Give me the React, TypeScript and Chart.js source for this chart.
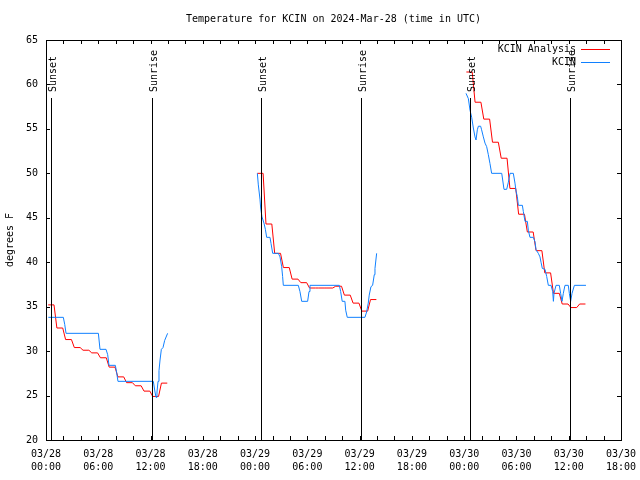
import React, { useEffect, useRef } from 'react';
import { Chart, registerables } from 'chart.js';

Chart.register(...registerables);

const FONT = '"DejaVu Sans Mono", "Liberation Mono", monospace';

const titleText = 'Temperature for KCIN on 2024-Mar-28 (time in UTC)';
const dayLabels = ['03/28', '03/29', '03/30', '03/31'];

// Sunrise / sunset (hours since 03/28 00:00 UTC)
const sunHours = [0.6, 12.2, 24.65, 36.2, 48.7, 60.15];
const sunLabels = ['Sunset', 'Sunrise', 'Sunset', 'Sunrise', 'Sunset', 'Sunrise'];

// KCIN Analysis (hourly values), three evening/night runs
const redStarts = [0, 24, 48];
const redRun1 = [35.2, 32.6, 31.3, 30.4, 30.1, 29.8, 29.25, 28.2, 27.1, 26.45, 26.1, 25.5, 24.9, 26.4];
const redRun2 = [50.0, 44.3, 41.0, 39.4, 38.1, 37.7, 37.1, 37.1, 37.1, 37.3, 36.3, 35.4, 34.5, 35.8];
const redRun3 = [61.4, 58.0, 56.1, 53.5, 51.7, 48.3, 45.4, 43.4, 41.3, 38.8, 36.5, 35.3, 34.9, 35.3];

// KCIN observations
const blueHours1 = [0.27, 1.99, 2.15, 2.3, 6.01, 6.2, 6.89, 7.08, 7.23, 7.96, 8.11, 8.26, 12.32, 12.51, 12.63, 12.74, 12.86, 12.97, 13.09, 13.24, 13.43, 13.62, 13.96];
const blueTemps1 = [33.8, 33.8, 33.0, 32.0, 32.0, 30.2, 30.2, 29.6, 28.4, 28.4, 27.6, 26.6, 26.6, 25.4, 24.8, 25.4, 26.6, 27.8, 29.0, 30.2, 30.4, 31.2, 32.0];
const blueHours2 = [24.26, 24.37, 24.56, 24.64, 24.79, 25.02, 25.18, 25.33, 25.71, 25.83, 26.02, 26.67, 26.86, 27.05, 27.16, 27.24, 28.96, 29.15, 29.35, 30.03, 30.19, 30.3, 33.67, 33.82, 34.0, 34.31, 34.4, 34.58, 36.61, 36.8, 36.99, 37.1, 37.3, 37.49, 37.68, 37.76, 37.95];
const blueTemps2 = [50.0, 48.7, 47.1, 46.1, 45.1, 44.4, 43.7, 42.8, 42.8, 42.1, 41.0, 41.0, 40.6, 39.5, 38.4, 37.4, 37.4, 36.7, 35.6, 35.6, 36.7, 37.4, 37.4, 36.7, 35.6, 35.6, 34.6, 33.8, 33.8, 34.4, 35.4, 36.3, 37.25, 37.4, 38.6, 39.3, 41.0];
const blueHours3 = [48.21, 48.48, 48.67, 48.86, 49.05, 49.24, 49.36, 49.51, 49.63, 49.89, 50.0, 50.2, 50.39, 50.58, 50.77, 50.96, 51.15, 52.31, 52.42, 52.57, 52.88, 53.07, 53.26, 53.64, 53.83, 53.95, 54.1, 54.22, 54.68, 54.79, 54.98, 55.25, 55.36, 55.55, 55.94, 56.13, 56.25, 56.51, 56.7, 56.82, 56.97, 57.28, 57.47, 57.66, 57.97, 58.16, 58.24, 58.31, 58.54, 58.92, 59.07, 59.23, 59.38, 59.57, 59.95, 60.07, 60.22, 60.38, 60.65, 61.98];
const blueTemps3 = [59.0, 58.4, 57.1, 56.3, 55.1, 54.1, 53.75, 54.9, 55.3, 55.3, 54.9, 54.1, 53.4, 53.0, 52.1, 51.1, 50.0, 50.0, 49.25, 48.2, 48.2, 49.0, 50.0, 50.0, 48.9, 48.0, 47.4, 46.4, 46.4, 45.7, 44.6, 44.6, 43.6, 42.8, 42.8, 42.3, 41.4, 41.0, 40.6, 40.0, 39.3, 39.2, 38.4, 37.4, 37.4, 36.7, 35.6, 36.5, 37.4, 37.4, 36.5, 35.6, 36.5, 37.4, 37.4, 36.5, 35.6, 36.5, 37.4, 37.4];

const seriesNames = ['KCIN Analysis', 'KCIN'];
const seriesColors = ['#ff0000', '#1080ff'];

function buildRed() {
  const runs = [redRun1, redRun2, redRun3];
  const pts: any[] = [];
  runs.forEach((vals, k) => {
    const s = redStarts[k];
    if (k > 0) pts.push({ x: s - 1, y: null });
    vals.forEach((v, i) => {
      pts.push({ x: s + i + 0.25, y: v });
      pts.push({ x: s + i + 0.92, y: v });
    });
  });
  return pts;
}

function buildBlue() {
  const hs = [blueHours1, blueHours2, blueHours3];
  const ts = [blueTemps1, blueTemps2, blueTemps3];
  const pts: any[] = [];
  hs.forEach((h, k) => {
    if (k > 0) pts.push({ x: h[0] - 1, y: null });
    h.forEach((x, i) => pts.push({ x, y: ts[k][i] }));
  });
  return pts;
}

const decorPlugin = {
  id: 'decor',
  afterDatasetsDraw(chart: any) {
    const { ctx, chartArea: a, scales } = chart;
    const x = scales.x;
    const y = scales.y;
    ctx.save();
    ctx.strokeStyle = '#000';
    ctx.fillStyle = '#000';
    ctx.lineWidth = 1;
    // sunrise/sunset markers
    sunHours.forEach((h, i) => {
      const px = Math.round(x.getPixelForValue(h)) + 0.5;
      ctx.beginPath();
      ctx.moveTo(px, a.top + 58);
      ctx.lineTo(px, a.bottom);
      ctx.stroke();
      ctx.save();
      ctx.translate(px + 1.5, a.top + 52);
      ctx.rotate(-Math.PI / 2);
      ctx.font = `10px ${FONT}`;
      ctx.textAlign = 'left';
      ctx.textBaseline = 'middle';
      ctx.fillText(sunLabels[i], 0, 0);
      ctx.restore();
    });
    // frame
    ctx.strokeRect(a.left + 0.5, a.top + 0.5, a.right - a.left, a.bottom - a.top);
    // inward ticks
    const tl = 4;
    for (let h = 0; h <= 66; h += 2) {
      const px = Math.round(x.getPixelForValue(h)) + 0.5;
      ctx.beginPath();
      ctx.moveTo(px, a.bottom);
      ctx.lineTo(px, a.bottom - tl);
      ctx.moveTo(px, a.top);
      ctx.lineTo(px, a.top + tl);
      ctx.stroke();
    }
    for (let v = 20; v <= 65; v += 5) {
      const py = Math.round(y.getPixelForValue(v)) + 0.5;
      ctx.beginPath();
      ctx.moveTo(a.left, py);
      ctx.lineTo(a.left + tl, py);
      ctx.moveTo(a.right, py);
      ctx.lineTo(a.right - tl, py);
      ctx.stroke();
    }
    // title
    ctx.font = `10px ${FONT}`;
    ctx.textAlign = 'center';
    ctx.textBaseline = 'middle';
    ctx.fillText(titleText, (a.left + a.right) / 2, 19);
    // legend
    ctx.textAlign = 'right';
    seriesNames.forEach((name, i) => {
      const ly = a.top + 9 + i * 13;
      ctx.fillStyle = '#000';
      ctx.fillText(name, a.right - 45, ly);
      ctx.strokeStyle = seriesColors[i];
      ctx.beginPath();
      ctx.moveTo(a.right - 40, ly + 0.5);
      ctx.lineTo(a.right - 11, ly + 0.5);
      ctx.stroke();
    });
    ctx.restore();
  },
};

export default function App() {
  const ref = useRef<HTMLCanvasElement | null>(null);
  useEffect(() => {
    if (!ref.current) return;
    const chart = new Chart(ref.current, {
      type: 'line',
      data: {
        datasets: [
          {
            label: seriesNames[0],
            data: buildRed(),
            borderColor: seriesColors[0],
            borderWidth: 1,
            pointRadius: 0,
            tension: 0,
            fill: false,
            spanGaps: false,
            order: 2,
          },
          {
            label: seriesNames[1],
            data: buildBlue(),
            borderColor: seriesColors[1],
            borderWidth: 1,
            pointRadius: 0,
            tension: 0,
            fill: false,
            spanGaps: false,
            order: 1,
          },
        ],
      },
      options: {
        responsive: false,
        animation: false,
        devicePixelRatio: 1,
        layout: { padding: { top: 40, right: 19, left: 0, bottom: 0 } },
        plugins: {
          legend: { display: false },
          title: { display: false },
          tooltip: { enabled: false },
        },
        scales: {
          x: {
            type: 'linear',
            min: 0,
            max: 66,
            grid: { display: false, drawTicks: false },
            border: { display: false },
            afterFit: (s: any) => {
              s.height = 40;
              s.paddingLeft = 0;
              s.paddingRight = 0;
            },
            ticks: {
              stepSize: 6,
              autoSkip: false,
              maxRotation: 0,
              padding: 8,
              color: '#000',
              font: { family: FONT, size: 10, lineHeight: 1.3 },
              callback: (v: any) => {
                const n = Number(v);
                const d = Math.floor(n / 24);
                const hh = n - d * 24;
                return [dayLabels[d], (hh < 10 ? '0' : '') + hh + ':00'];
              },
            },
          },
          y: {
            min: 20,
            max: 65,
            grid: { display: false, drawTicks: false },
            border: { display: false },
            afterFit: (s: any) => {
              s.width = 46;
              s.paddingTop = 0;
              s.paddingBottom = 0;
            },
            title: {
              display: true,
              text: 'degrees F',
              color: '#000',
              padding: 4,
              font: { family: FONT, size: 10 },
            },
            ticks: {
              stepSize: 5,
              padding: 8,
              color: '#000',
              font: { family: FONT, size: 10 },
            },
          },
        },
      },
      plugins: [decorPlugin],
    });
    return () => chart.destroy();
  }, []);
  return (
    <div style={{ position: 'fixed', left: 0, top: 0, width: 640, height: 480, background: '#fff' }}>
      <canvas ref={ref} width={640} height={480} style={{ width: 640, height: 480 }} />
    </div>
  );
}
